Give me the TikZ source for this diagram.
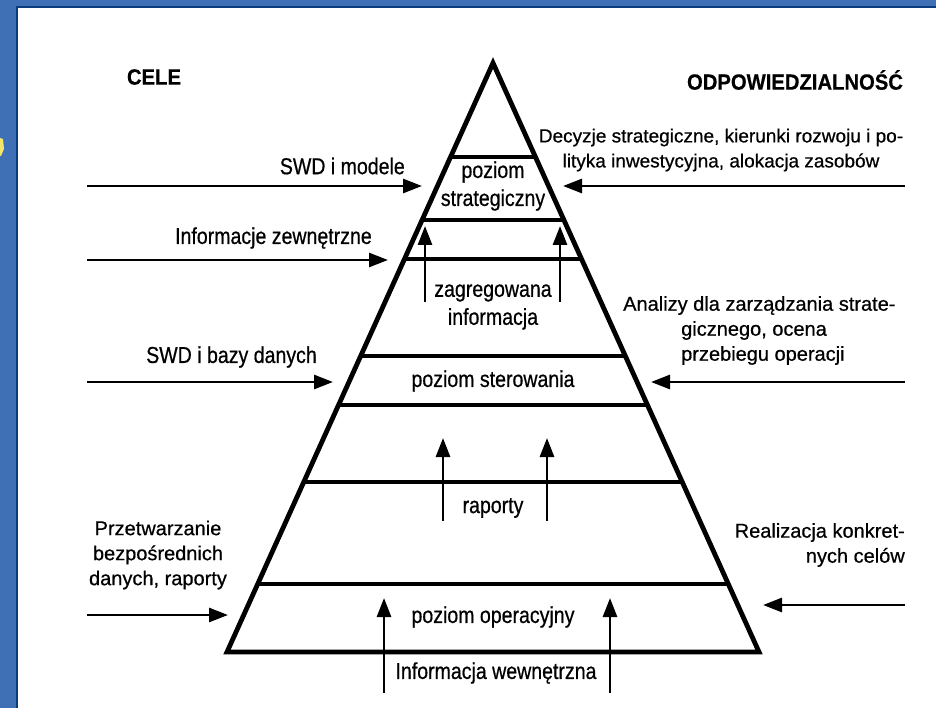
\documentclass[tikz,border=0pt]{standalone}
\usepackage{fontspec}
\setmainfont{Liberation Sans}
\newfontfamily\regfont[FakeBold=0.6]{Liberation Sans}
\newfontfamily\condfont[FakeStretch=0.85,FakeBold=0.6]{Liberation Sans}
\newfontfamily\hdrfont[FakeStretch=0.92,FakeBold=0.5]{Liberation Sans Bold}
\usetikzlibrary{arrows.meta,calc}
\definecolor{bgblue}{HTML}{3F70B5}
\definecolor{edgeblue}{HTML}{0B3C7E}
\definecolor{marky}{HTML}{F2E66A}
\begin{document}
\begin{tikzpicture}[x=1pt,y=-1pt,
  pyr/.style={line width=4.8pt, line join=miter},
  divl/.style={line width=3.2pt},
  arr/.style={line width=2.8pt, -{Triangle[length=19pt,width=14pt]}},
  lvl/.style={font=\condfont\fontsize{23}{28}\selectfont, align=center, inner sep=0pt},
  clab/.style={font=\condfont\fontsize{23}{26}\selectfont, inner sep=0pt},
  lab/.style={font=\regfont\fontsize{20}{25}\selectfont, inner sep=0pt},
  hdr/.style={font=\hdrfont\fontsize{22}{24}\selectfont, inner sep=0pt}]
\useasboundingbox (0,0) rectangle (936,708);
\fill[white] (0,0) rectangle (936,708);
\fill[bgblue] (0,0) rectangle (17,708);
\fill[bgblue] (0,0) rectangle (936,7);
\draw[edgeblue, line width=2pt] (17,708) -- (17,7) -- (936,7);
\fill[marky] (0,138) -- (3,139) -- (4,149) -- (1,156) -- (0,156) -- cycle;

% pyramid
\coordinate (A) at (493,63);
\coordinate (BL) at (227,652);
\coordinate (BR) at (759,652);
\draw[pyr] (A) -- (BR) -- (BL) -- cycle;
\foreach \yy/\nm in {157/d1,220/d2,259/d3,356/d4,405/d5,482/d6,584/d7}{
  \coordinate (\nm l) at ($(A)!{(\yy-63)/589}!(BL)$);
  \coordinate (\nm r) at ($(A)!{(\yy-63)/589}!(BR)$);
  \draw[divl] (\nm l) -- (\nm r);
}

% level texts
\node[lvl] (strat) at (493,186) {poziom\\strategiczny};
\node[lvl] (zagr) at (493,307) {zagregowana\\informacja};
\node[lvl] (ster) at (493,381) {poziom sterowania};
\node[lvl] (rap) at (493,508) {raporty};
\node[lvl] (oper) at (493,617) {poziom operacyjny};
\node[lvl] (wewn) at (496,673) {Informacja wewnętrzna};

% internal arrows
\coordinate (z1s) at (425,302); \coordinate (z1e) at (425,226);
\coordinate (z2s) at (560,302); \coordinate (z2e) at (560,226);
\coordinate (r1s) at (443,521); \coordinate (r1e) at (443,438);
\coordinate (r2s) at (547,521); \coordinate (r2e) at (547,438);
\coordinate (o1s) at (384,693); \coordinate (o1e) at (384,598);
\coordinate (o2s) at (610,693); \coordinate (o2e) at (610,598);
\foreach \p in {z1,z2,r1,r2,o1,o2}{\draw[arr] (\p s) -- (\p e);}

% headers
\node[hdr] (cele) at (154,77) {CELE};
\node[hdr] (odp) at (795,80) {ODPOWIEDZIALNOŚĆ};

% left side
\node[clab, anchor=east] (swdm) at (405,166) {SWD i modele};
\node[clab, anchor=east] (izew) at (372,238) {Informacje zewnętrzne};
\node[clab, anchor=east] (swdb) at (317,357) {SWD i bazy danych};
\node[lab, align=center] (przetw) at (158,555) {Przetwarzanie\\bezpośrednich\\danych, raporty};
\coordinate (la1) at (87,186); \coordinate (lb1) at (422,186);
\coordinate (la2) at (87,260); \coordinate (lb2) at (388,260);
\coordinate (la3) at (87,382); \coordinate (lb3) at (333,382);
\coordinate (la4) at (87,615); \coordinate (lb4) at (228,615);
\foreach \i in {1,2,3,4}{\draw[arr] (la\i) -- (lb\i);}

% right side
\node[lab, font=\regfont\fontsize{19}{25}\selectfont, align=center] (decy) at (721,150) {Decyzje strategiczne, kierunki rozwoju i po-\\lityka inwestycyjna, alokacja zasobów};
\node[lab, align=left, anchor=north west] (anal) at (623,296) {Analizy dla zarządzania strate-\\\hspace*{58pt}gicznego, ocena\\\hspace*{58pt}przebiegu operacji};
\node[lab, align=right, anchor=east] (real) at (905,545) {Realizacja konkret-\\nych celów};
\coordinate (ra1) at (905,186); \coordinate (rb1) at (563,186);
\coordinate (ra2) at (905,382); \coordinate (rb2) at (651,382);
\coordinate (ra3) at (905,605); \coordinate (rb3) at (763,605);
\foreach \i in {1,2,3}{\draw[arr] (ra\i) -- (rb\i);}
\end{tikzpicture}
\end{document}
